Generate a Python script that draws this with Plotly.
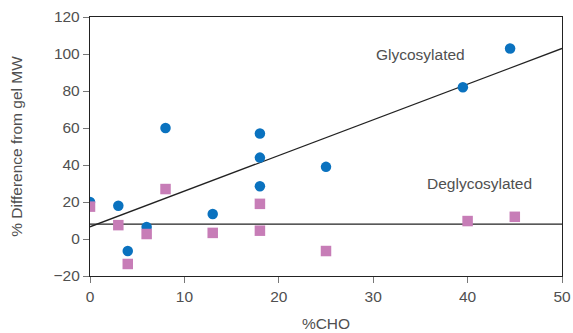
import plotly.graph_objects as go

# Glycosylated (blue circles)
gly_x = [0, 3, 4, 6, 8, 13, 18, 18, 18, 25, 39.5, 44.5]
gly_y = [20, 18, -6.5, 6.5, 60, 13.5, 57, 44, 28.5, 39, 82, 103]
# Deglycosylated (pink squares)
deg_x = [0, 3, 4, 6, 8, 13, 18, 18, 25, 40, 45]
deg_y = [17.5, 7.5, -13.5, 2.7, 27, 3.3, 19, 4.5, -6.5, 9.7, 12]
# Fit lines (endpoints)
gly_fit_x = [0, 50]
gly_fit_y = [6.6, 103]
deg_fit_x = [0, 50]
deg_fit_y = [8, 8]

x_ticks = [0, 10, 20, 30, 40, 50]
y_ticks = [-20, 0, 20, 40, 60, 80, 100, 120]
y_tick_text = ["\u221220", "0", "20", "40", "60", "80", "100", "120"]

font_family = "Liberation Sans, Arial, sans-serif"
text_color = "#505050"
fs = 15.5

fig = go.Figure()
fig.add_trace(go.Scatter(x=gly_fit_x, y=gly_fit_y, mode="lines",
                         line=dict(color="#222222", width=1.3), hoverinfo="skip"))
fig.add_trace(go.Scatter(x=deg_fit_x, y=deg_fit_y, mode="lines",
                         line=dict(color="#222222", width=1.3), hoverinfo="skip"))
fig.add_trace(go.Scatter(x=gly_x, y=gly_y, mode="markers", name="Glycosylated",
                         marker=dict(symbol="circle", size=10.5, color="#0a72bf")))
fig.add_trace(go.Scatter(x=deg_x, y=deg_y, mode="markers", name="Deglycosylated",
                         marker=dict(symbol="square", size=10.5, color="#c77db7")))

fig.add_annotation(x=35, y=100, text="Glycosylated", showarrow=False,
                   font=dict(family=font_family, size=fs, color=text_color))
fig.add_annotation(x=41.3, y=30, text="Deglycosylated", showarrow=False,
                   font=dict(family=font_family, size=fs, color=text_color))

fig.update_layout(
    width=573, height=333,
    margin=dict(l=90, r=11, t=17, b=57),
    plot_bgcolor="white", paper_bgcolor="white",
    showlegend=False,
    font=dict(family=font_family, size=fs, color=text_color),
    xaxis=dict(range=[0, 50], tickvals=x_ticks, showgrid=False, zeroline=False,
               automargin=False,
               showline=True, linecolor="#222222", linewidth=1.3, mirror=True,
               ticks="outside", ticklen=6, tickcolor="#777777", tickwidth=1.3,
               title=dict(text="%CHO", standoff=14,
                          font=dict(family=font_family, size=fs, color=text_color))),
    yaxis=dict(range=[-20, 120], tickvals=y_ticks, ticktext=y_tick_text,
               showgrid=False, zeroline=False, automargin=False,
               showline=True, linecolor="#222222", linewidth=1.3, mirror=True,
               ticks="outside", ticklen=6, tickcolor="#777777", tickwidth=1.3,
               title=dict(text="% Difference from gel MW", standoff=27,
                          font=dict(family=font_family, size=fs, color=text_color))),
)

fig.write_html("out.html", config={"displayModeBar": False},
               post_script="document.body.style.margin='0';document.body.style.overflow='hidden';")
